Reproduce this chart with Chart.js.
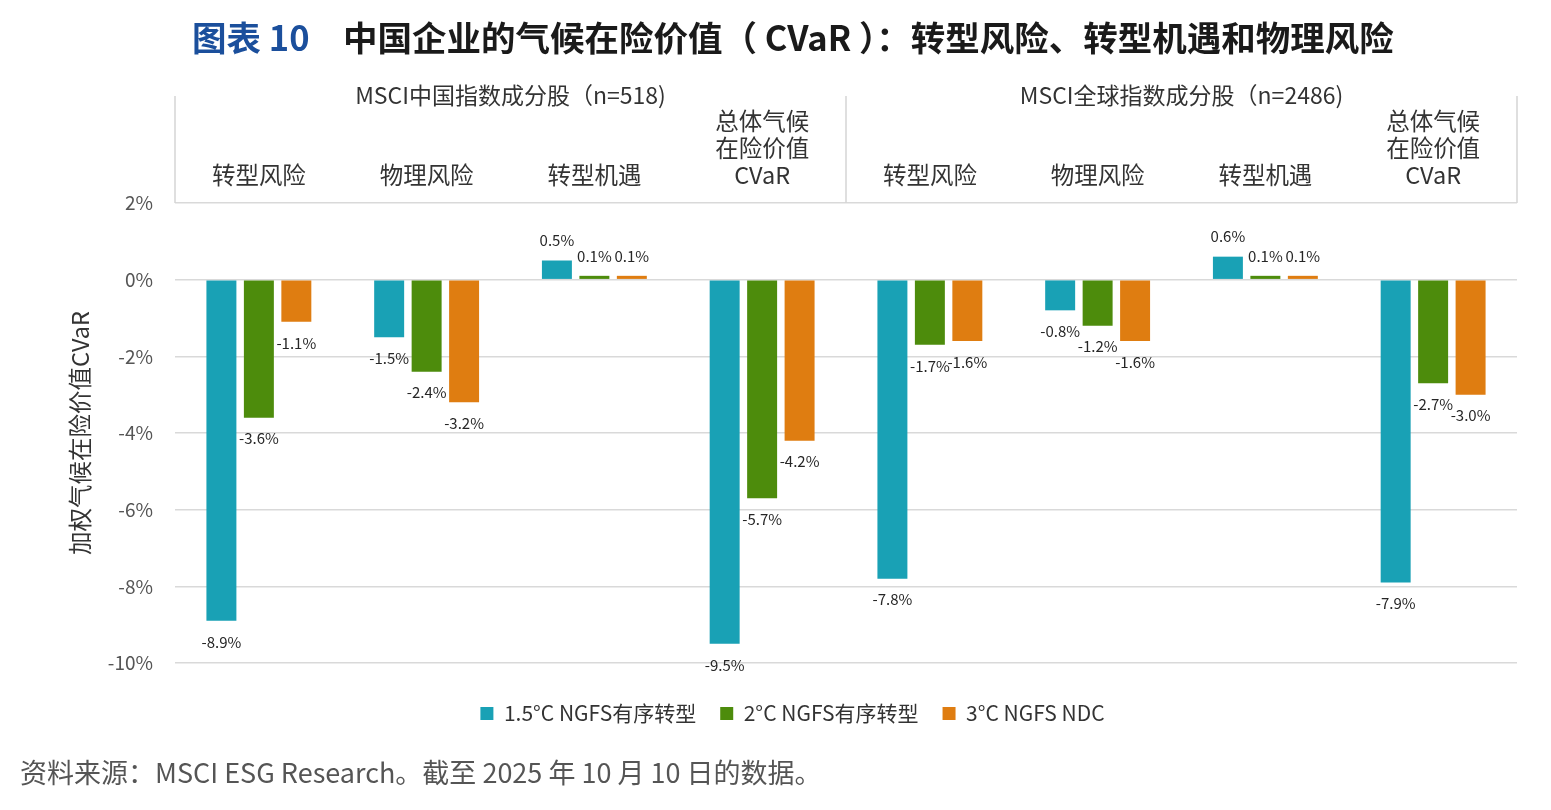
<!DOCTYPE html>
<html>
<head>
<meta charset="utf-8">
<script src="https://cdn.jsdelivr.net/npm/chart.js@4.4.0/dist/chart.umd.min.js"></script>
<style>
  body { margin: 0; background: #fff; }
  #wrap { width: 1551px; height: 810px; }
</style>
</head>
<body>
<div id="wrap"><canvas id="myChart" width="1551" height="810"></canvas></div>
<script>
// data
const categories = [
  ['转型风险'], ['物理风险'], ['转型机遇'], ['总体气候', '在险价值', 'CVaR'],
  ['转型风险'], ['物理风险'], ['转型机遇'], ['总体气候', '在险价值', 'CVaR']
];
const groups = ['MSCI中国指数成分股（n=518)', 'MSCI全球指数成分股（n=2486)'];
const seriesNames = ['1.5°C NGFS有序转型', '2°C NGFS有序转型', '3°C NGFS NDC'];
const s15 = [-8.9, -1.5, 0.5, -9.5, -7.8, -0.8, 0.6, -7.9];
const s2 = [-3.6, -2.4, 0.1, -5.7, -1.7, -1.2, 0.1, -2.7];
const s3 = [-1.1, -3.2, 0.1, -4.2, -1.6, -1.6, 0.1, -3.0];
const yTicks = [2, 0, -2, -4, -6, -8, -10];

const colors = ['#19a1b5', '#4d8c0c', '#df7d11'];
const FONT = '"Noto Sans CJK SC", "Noto Sans", sans-serif';

// value labels above / below each bar
const valueLabels = {
  id: 'valueLabels',
  afterDatasetsDraw(chart) {
    const ctx = chart.ctx;
    ctx.save();
    ctx.font = '15px ' + FONT;
    ctx.fillStyle = '#262626';
    ctx.textAlign = 'center';
    ctx.textBaseline = 'middle';
    chart.data.datasets.forEach((ds, i) => {
      chart.getDatasetMeta(i).data.forEach((bar, j) => {
        const v = ds.data[j];
        const y = v < 0 ? bar.y + 21 : bar.y - 20;
        ctx.fillText(v.toFixed(1) + '%', bar.x, y);
      });
    });
    ctx.restore();
  }
};

// title, group headers, separators, source note
const decorations = {
  id: 'decorations',
  afterDraw(chart) {
    const ctx = chart.ctx;
    const area = chart.chartArea;
    const x = chart.scales.x;
    ctx.save();

    // title
    ctx.textBaseline = 'middle';
    ctx.textAlign = 'left';
    ctx.font = 'bold 34.5px ' + FONT;
    ctx.fillStyle = '#1b4f9c';
    ctx.fillText('图表 10', 192, 38);
    ctx.fillStyle = '#1a1a1a';
    ctx.fillText('中国企业的气候在险价值（ CVaR ）：转型风险、转型机遇和物理风险', 343, 38);

    // header box lines
    const mid = (x.getPixelForValue(3) + x.getPixelForValue(4)) / 2;
    ctx.strokeStyle = '#d4d4d4';
    ctx.lineWidth = 1.5;
    [area.left, mid, area.right].forEach(px => {
      ctx.beginPath();
      ctx.moveTo(px, 96);
      ctx.lineTo(px, area.top);
      ctx.stroke();
    });

    // group names
    ctx.font = '23px ' + FONT;
    ctx.fillStyle = '#333';
    ctx.textAlign = 'center';
    ctx.fillText(groups[0], (area.left + mid) / 2, 95);
    ctx.fillText(groups[1], (mid + area.right) / 2, 95);

    // source
    ctx.textAlign = 'left';
    ctx.font = '27px ' + FONT;
    ctx.fillStyle = '#555';
    ctx.fillText('资料来源：MSCI ESG Research。截至 2025 年 10 月 10 日的数据。', 20, 773);
    ctx.restore();
  }
};

new Chart(document.getElementById('myChart'), {
  type: 'bar',
  data: {
    labels: categories,
    datasets: [
      { label: seriesNames[0], data: s15, backgroundColor: colors[0] },
      { label: seriesNames[1], data: s2, backgroundColor: colors[1] },
      { label: seriesNames[2], data: s3, backgroundColor: colors[2] }
    ]
  },
  options: {
    responsive: false,
    animation: false,
    layout: { padding: { left: 68, right: 34, top: 0, bottom: 76 } },
    datasets: { bar: { categoryPercentage: 0.67, barPercentage: 0.8 } },
    scales: {
      x: {
        position: 'top',
        grid: { display: false },
        border: { display: false },
        ticks: {
          color: '#333',
          font: { family: FONT, size: 23.5, lineHeight: 1.15 },
          padding: 6,
          maxRotation: 0,
          autoSkip: false
        },
        afterFit(scale) { scale.height = 203; }
      },
      y: {
        min: -10,
        max: 2,
        afterBuildTicks(scale) { scale.ticks = yTicks.map(v => ({ value: v })); },
        grid: { color: '#d9d9d9', lineWidth: 1.5, drawTicks: false },
        border: { display: false },
        ticks: {
          color: '#555',
          font: { family: FONT, size: 19 },
          padding: 22,
          callback: v => v + '%'
        },
        title: {
          display: true,
          text: '加权气候在险价值CVaR',
          color: '#333',
          font: { family: FONT, size: 23.5 },
          padding: { top: -2, bottom: 0 }
        },
        afterFit(scale) { scale.width = 107; }
      }
    },
    plugins: {
      legend: {
        position: 'bottom',
        title: { display: true, text: ' ', font: { size: 10 }, padding: { top: 2, bottom: 2 } },
        labels: {
          color: '#333',
          font: { family: FONT, size: 21 },
          boxWidth: 13,
          boxHeight: 13,
          padding: 24
        }
      },
      tooltip: { enabled: false }
    }
  },
  plugins: [valueLabels, decorations]
});
</script>
</body>
</html>
